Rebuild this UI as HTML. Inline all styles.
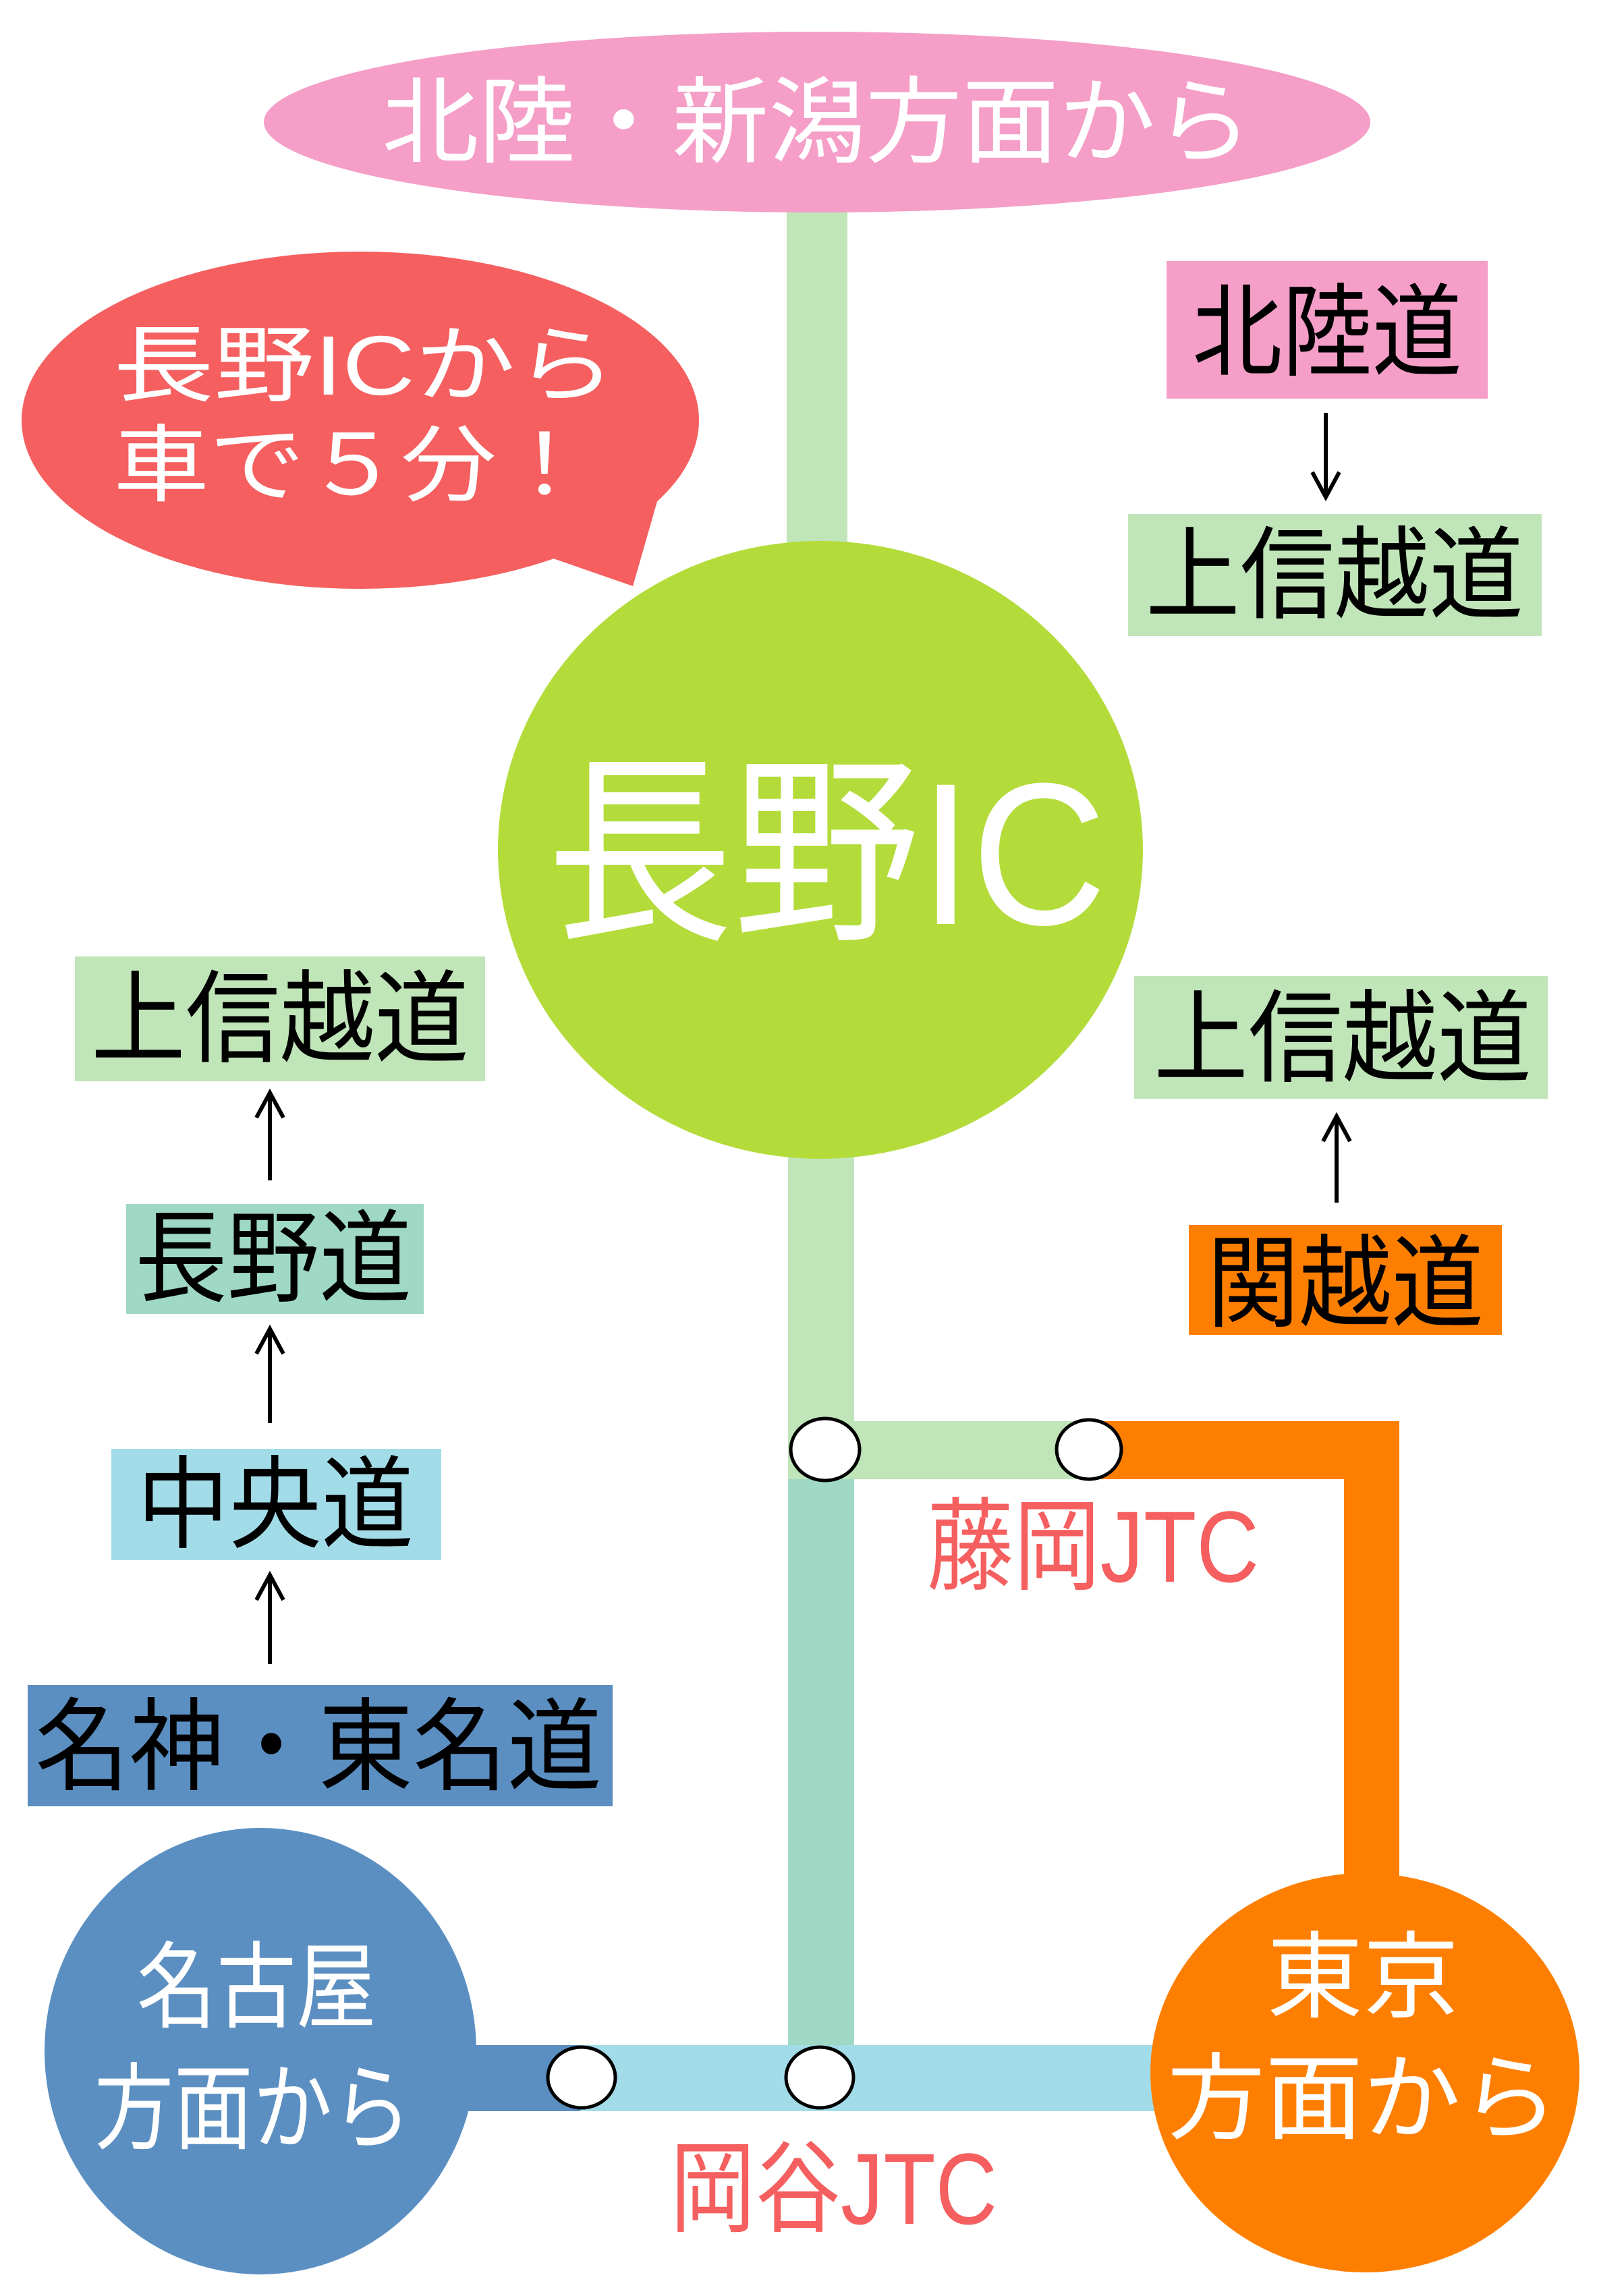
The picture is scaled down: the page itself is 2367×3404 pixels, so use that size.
<!DOCTYPE html>
<html><head><meta charset="utf-8"><style>
html,body{margin:0;padding:0;background:#fff;}
svg{display:block;}
text{font-family:"Liberation Sans","Noto Sans CJK JP",sans-serif;}
</style></head><body>
<svg width="2367" height="3404" viewBox="0 0 2367 3404" xmlns="http://www.w3.org/2000/svg">
<!-- lines -->
<rect x="1166" y="300" width="90" height="520" fill="#c0e5b8"/>
<rect x="1168" y="1700" width="98" height="460" fill="#c0e5b8"/>
<rect x="1168" y="2107" width="450" height="86" fill="#c0e5b8"/>
<rect x="1168" y="2193" width="98" height="890" fill="#9fd9c5"/>
<rect x="1614" y="2107" width="460" height="86" fill="#fe7f00"/>
<rect x="1992" y="2107" width="82" height="700" fill="#fe7f00"/>
<rect x="690" y="3032" width="1050" height="98" fill="#a3dce9"/>
<rect x="690" y="3032" width="170" height="98" fill="#5b8fc2"/>

<!-- top ellipse -->
<ellipse cx="1211" cy="181" rx="820" ry="134" fill="#f49ec8"/>
<text x="1211" y="230" font-size="140" fill="#fff" text-anchor="middle" textLength="1290" lengthAdjust="spacingAndGlyphs">北陸・新潟方面から</text>

<!-- speech bubble -->
<path d="M 938 869 L 975 740 L 820 828 Z" fill="#f55f5f"/>
<ellipse cx="534" cy="623" rx="502" ry="250" fill="#f55f5f"/>
<text x="168" y="585" font-size="125" fill="#fff" textLength="745" lengthAdjust="spacingAndGlyphs">長野ICから</text>
<text x="168" y="733" font-size="125" fill="#fff" textLength="710" lengthAdjust="spacingAndGlyphs">車で５分！</text>

<!-- big circle -->
<ellipse cx="1216" cy="1260" rx="478" ry="458" fill="#b3dc3b"/>
<text x="1225" y="1370" font-size="300" fill="#fff" text-anchor="middle" textLength="830" lengthAdjust="spacingAndGlyphs">長野IC</text>

<!-- right boxes -->
<rect x="1729" y="387" width="476" height="204" fill="#f49ec8"/>
<text x="1967" y="545" font-size="150" fill="#000" text-anchor="middle" textLength="400" lengthAdjust="spacingAndGlyphs">北陸道</text>
<line x1="1965" y1="612" x2="1965" y2="735" stroke="#000" stroke-width="6"/>
<polyline points="1945,700 1965,737 1985,700" fill="none" stroke="#000" stroke-width="6"/>
<rect x="1672" y="762" width="613" height="181" fill="#c0e5b8"/>
<text x="1978" y="905" font-size="150" fill="#000" text-anchor="middle" textLength="560" lengthAdjust="spacingAndGlyphs">上信越道</text>

<rect x="1681" y="1447" width="613" height="182" fill="#c0e5b8"/>
<text x="1990" y="1592" font-size="150" fill="#000" text-anchor="middle" textLength="560" lengthAdjust="spacingAndGlyphs">上信越道</text>
<line x1="1981" y1="1655" x2="1981" y2="1783" stroke="#000" stroke-width="6"/>
<polyline points="1961,1692 1981,1655 2001,1692" fill="none" stroke="#000" stroke-width="6"/>
<rect x="1762" y="1816" width="464" height="163" fill="#fe7f00"/>
<text x="1994" y="1955" font-size="150" fill="#000" text-anchor="middle" textLength="410" lengthAdjust="spacingAndGlyphs">関越道</text>

<!-- left boxes -->
<rect x="111" y="1418" width="608" height="185" fill="#c0e5b8"/>
<text x="415" y="1563" font-size="150" fill="#000" text-anchor="middle" textLength="560" lengthAdjust="spacingAndGlyphs">上信越道</text>
<line x1="400" y1="1620" x2="400" y2="1750" stroke="#000" stroke-width="6"/>
<polyline points="380,1657 400,1620 420,1657" fill="none" stroke="#000" stroke-width="6"/>
<rect x="187" y="1785" width="441" height="163" fill="#9fd9c5"/>
<text x="405" y="1918" font-size="150" fill="#000" text-anchor="middle" textLength="410" lengthAdjust="spacingAndGlyphs">長野道</text>
<line x1="400" y1="1970" x2="400" y2="2110" stroke="#000" stroke-width="6"/>
<polyline points="380,2007 400,1970 420,2007" fill="none" stroke="#000" stroke-width="6"/>
<rect x="165" y="2148" width="489" height="165" fill="#a3dce9"/>
<text x="408" y="2283" font-size="150" fill="#000" text-anchor="middle" textLength="410" lengthAdjust="spacingAndGlyphs">中央道</text>
<line x1="400" y1="2335" x2="400" y2="2467" stroke="#000" stroke-width="6"/>
<polyline points="380,2372 400,2335 420,2372" fill="none" stroke="#000" stroke-width="6"/>
<rect x="41" y="2498" width="867" height="180" fill="#5b8fc2"/>
<text x="472" y="2642" font-size="150" fill="#000" text-anchor="middle" textLength="840" lengthAdjust="spacingAndGlyphs">名神・東名道</text>

<!-- junction labels -->
<text x="1374" y="2345" font-size="150" fill="#f55f5f" textLength="492" lengthAdjust="spacingAndGlyphs">藤岡JTC</text>
<text x="993" y="3297" font-size="150" fill="#f55f5f" textLength="485" lengthAdjust="spacingAndGlyphs">岡谷JTC</text>

<!-- Nagoya circle -->
<ellipse cx="386" cy="3041" rx="320" ry="331" fill="#5b8fc2"/>
<text x="380" y="2995" font-size="140" fill="#fff" text-anchor="middle" textLength="355" lengthAdjust="spacingAndGlyphs">名古屋</text>
<text x="375" y="3175" font-size="140" fill="#fff" text-anchor="middle" textLength="470" lengthAdjust="spacingAndGlyphs">方面から</text>

<!-- Tokyo circle -->
<ellipse cx="2023" cy="3073" rx="318" ry="296" fill="#fe7f00"/>
<text x="2020" y="2980" font-size="140" fill="#fff" text-anchor="middle" textLength="285" lengthAdjust="spacingAndGlyphs">東京</text>
<text x="2020" y="3160" font-size="140" fill="#fff" text-anchor="middle" textLength="580" lengthAdjust="spacingAndGlyphs">方面から</text>

<!-- junction circles -->
<ellipse cx="1223" cy="2149" rx="51" ry="46" fill="#fff" stroke="#000" stroke-width="5"/>
<ellipse cx="1614" cy="2149" rx="48" ry="44" fill="#fff" stroke="#000" stroke-width="5"/>
<ellipse cx="862" cy="3080" rx="50" ry="45" fill="#fff" stroke="#000" stroke-width="5"/>
<ellipse cx="1215" cy="3080" rx="50" ry="45" fill="#fff" stroke="#000" stroke-width="5"/>
</svg>
</body></html>
